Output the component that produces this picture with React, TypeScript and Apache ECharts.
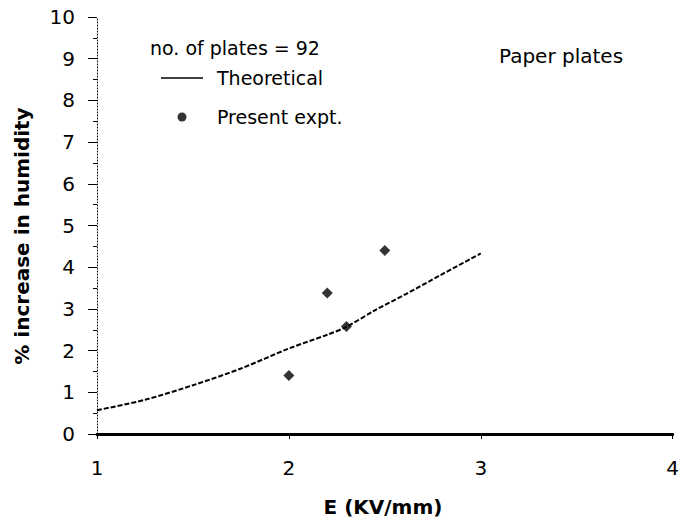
import React, { useEffect, useRef } from "react";
import * as echarts from "echarts";

const theoryE = [1.0, 1.25, 1.5, 1.75, 2.0, 2.2, 2.3, 2.45, 2.62, 2.79, 3.0];
const theoryH = [0.57, 0.82, 1.17, 1.57, 2.05, 2.38, 2.57, 2.97, 3.38, 3.81, 4.33];
const exptE = [2.0, 2.2, 2.3, 2.5];
const exptH = [1.4, 3.38, 2.58, 4.4];

const FONT = "DejaVu Sans";

export default function App() {
  const ref = useRef<HTMLDivElement>(null);
  useEffect(() => {
    const chart = echarts.init(ref.current!, null, { renderer: "svg" });
    chart.setOption({
      animation: false,
      backgroundColor: "#fff",
      grid: { left: 97, right: 1, top: 17, bottom: 90 },
      xAxis: [
        {
          type: "value",
          min: 1,
          max: 4,
          interval: 1,
          axisLine: { onZero: false, lineStyle: { color: "#000", width: 3 } },
          axisTick: { show: true, length: 5, lineStyle: { color: "#000", width: 1 } },
          axisLabel: { color: "#000", fontSize: 20, fontFamily: FONT, margin: 24 },
          splitLine: { show: false },
        },
        {
          type: "value",
          position: "top",
          min: 1,
          max: 4,
          axisLine: { show: true, lineStyle: { color: "#000", width: 2.5 } },
          axisTick: { show: false },
          axisLabel: { show: false },
          splitLine: { show: false },
        },
      ],
      yAxis: {
        type: "value",
        min: 0,
        max: 10,
        interval: 1,
        axisLine: { show: true, lineStyle: { color: "#000", width: 1, type: [1, 2] } },
        axisTick: { show: true, length: 9, lineStyle: { color: "#000", width: 1 } },
        minorTick: { show: true, splitNumber: 2, length: 4, lineStyle: { color: "#000", width: 1 } },
        axisLabel: { color: "#000", fontSize: 20, fontFamily: FONT, margin: 22 },
        splitLine: { show: false },
      },
      legend: {
        orient: "vertical",
        left: 161,
        top: 68,
        itemWidth: 42,
        itemHeight: 9,
        itemGap: 19,
        padding: 0,
        symbolKeepAspect: true,
        textStyle: { color: "#000", fontSize: 19, fontFamily: FONT, lineHeight: 20, padding: [0, 0, 0, 9] },
        data: [
          { name: "Theoretical", icon: "path://M0,0H42V1.5H0Z", itemStyle: { color: "#000" } },
          {
            name: "Present expt.",
            icon: "path://M0,5a5,5 0 1,0 10,0a5,5 0 1,0 -10,0Z",
            itemStyle: { color: "#000" },
          },
        ],
      },
      graphic: [
        {
          type: "text",
          left: 150,
          top: 38,
          style: { text: "no. of plates = 92", fill: "#000", font: `19px ${FONT}` },
        },
        {
          type: "text",
          left: 499,
          top: 46,
          style: { text: "Paper plates", fill: "#000", font: `20px ${FONT}` },
        },
        {
          type: "text",
          x: 383,
          y: 507,
          style: {
            text: "E (KV/mm)",
            fill: "#000",
            font: `bold 20px ${FONT}`,
            align: "center",
            verticalAlign: "middle",
          },
        },
        {
          type: "text",
          x: 22,
          y: 236,
          rotation: Math.PI / 2,
          style: {
            text: "% increase in humidity",
            fill: "#000",
            font: `bold 20px ${FONT}`,
            align: "center",
            verticalAlign: "middle",
          },
        },
      ],
      series: [
        {
          name: "Theoretical",
          type: "line",
          smooth: 0.3,
          symbol: "none",
          data: theoryE.map((e, i) => [e, theoryH[i]]),
          lineStyle: { color: "#000", width: 2, type: [5, 2] },
          itemStyle: { color: "#000" },
        },
        {
          name: "Present expt.",
          type: "scatter",
          symbol: "diamond",
          symbolSize: 11,
          data: exptE.map((e, i) => [e, exptH[i]]),
          itemStyle: { color: "#000" },
        },
      ],
    });
    return () => chart.dispose();
  }, []);
  return (
    <div
      ref={ref}
      style={{ position: "fixed", left: 0, top: 0, width: 682, height: 524, background: "#fff" }}
    />
  );
}
